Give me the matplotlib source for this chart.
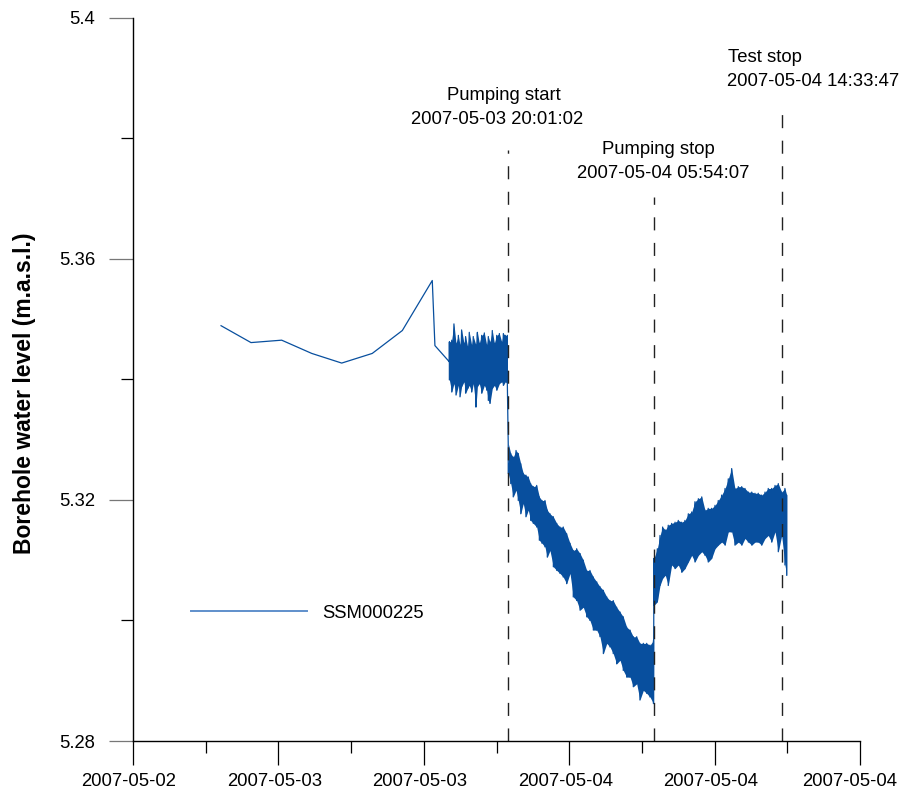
import matplotlib
matplotlib.use("Agg")
import matplotlib.pyplot as plt
import matplotlib.dates as mdates
from matplotlib.lines import Line2D
from matplotlib.transforms import ScaledTranslation
import numpy as np
from datetime import datetime, timedelta

plt.rcParams['font.family'] = ['Liberation Sans', 'DejaVu Sans']
plt.rcParams['lines.scale_dashes'] = False

# hours counted from 2007-05-03 00:00
base = datetime(2007, 5, 3)

# sparse logger readings before the dense sampling starts
sparse_h = [0.56, 2.59, 4.67, 6.71, 8.74, 10.81, 12.85, 14.88, 15.06, 16.04]
sparse_lvl = [5.3489, 5.3461, 5.3465, 5.3443, 5.3427, 5.3443, 5.3481, 5.3564, 5.3456, 5.3429]

# dense sampling, read as upper / lower edge of the noise band
pre_h = [16.04, 16.20, 16.35, 16.49, 16.65, 16.76, 16.87, 17.03, 17.14, 17.28,
         17.39, 17.55, 17.66, 17.84, 17.94, 18.07, 18.23, 18.41, 18.57, 18.68,
         18.79, 18.95, 19.09, 19.25, 19.43, 19.59, 19.70, 19.83, 19.97]
pre_hi = [5.3462, 5.3465, 5.3492, 5.3460, 5.3473, 5.3457, 5.3482, 5.3460, 5.3471, 5.3454,
          5.3478, 5.3457, 5.3471, 5.3457, 5.3478, 5.3460, 5.3473, 5.3477, 5.3457, 5.3471,
          5.3462, 5.3481, 5.3460, 5.3473, 5.3476, 5.3462, 5.3476, 5.3473, 5.3473]
pre_lo = [5.3399, 5.3379, 5.3393, 5.3374, 5.3390, 5.3371, 5.3388, 5.3396, 5.3377, 5.3385,
          5.3390, 5.3379, 5.3393, 5.3354, 5.3388, 5.3393, 5.3377, 5.3390, 5.3382, 5.3365,
          5.3360, 5.3385, 5.3390, 5.3382, 5.3393, 5.3396, 5.3390, 5.3396, 5.3393]

pump_h = [20.03, 20.20, 20.37, 20.56, 20.71, 20.88, 21.05, 21.23, 21.39, 21.55,
          21.73, 21.96, 22.14, 22.32, 22.52, 22.68, 22.86, 23.09, 23.32, 23.54,
          23.76, 23.99, 24.22, 24.44, 24.67, 24.90, 25.12, 25.35, 25.57, 25.80,
          26.03, 26.25, 26.48, 26.71, 26.93, 27.15, 27.38, 27.61, 27.83, 28.06,
          28.29, 28.51, 28.74, 28.96, 29.19, 29.42, 29.64, 29.88]
pump_hi = [5.3294, 5.3277, 5.3271, 5.3282, 5.3277, 5.3260, 5.3244, 5.3241, 5.3238, 5.3227,
           5.3222, 5.3224, 5.3205, 5.3199, 5.3199, 5.3183, 5.3177, 5.3172, 5.3161, 5.3155,
           5.3155, 5.3144, 5.3128, 5.3116, 5.3119, 5.3111, 5.3100, 5.3083, 5.3083, 5.3072,
           5.3064, 5.3056, 5.3050, 5.3039, 5.3033, 5.3033, 5.3022, 5.3014, 5.3006, 5.2989,
           5.2984, 5.2973, 5.2973, 5.2962, 5.2962, 5.2962, 5.2959, 5.2967]
pump_lo = [5.3244, 5.3227, 5.3205, 5.3216, 5.3199, 5.3177, 5.3194, 5.3172, 5.3183, 5.3166,
           5.3161, 5.3155, 5.3133, 5.3128, 5.3122, 5.3105, 5.3116, 5.3089, 5.3083, 5.3078,
           5.3072, 5.3061, 5.3078, 5.3039, 5.3033, 5.3017, 5.3022, 5.3006, 5.3000, 5.2984,
           5.2984, 5.2973, 5.2945, 5.2962, 5.2956, 5.2945, 5.2928, 5.2934, 5.2917, 5.2906,
           5.2906, 5.2890, 5.2895, 5.2868, 5.2884, 5.2879, 5.2873, 5.2862]

rec_h = [29.91, 30.14, 30.32, 30.50, 30.68, 30.88, 31.11, 31.34, 31.56, 31.79,
         32.01, 32.24, 32.47, 32.69, 32.92, 33.15, 33.37, 33.59, 33.82, 34.05,
         34.27, 34.50, 34.73, 34.95, 35.18, 35.40, 35.63, 35.86, 36.08, 36.31,
         36.54, 36.76, 36.98, 37.21, 37.44, 37.66, 37.89, 38.12, 38.34, 38.57,
         38.79, 38.91]
rec_hi = [5.3103, 5.3119, 5.3141, 5.3155, 5.3150, 5.3158, 5.3161, 5.3163, 5.3166, 5.3163,
          5.3166, 5.3177, 5.3180, 5.3197, 5.3202, 5.3205, 5.3183, 5.3186, 5.3186, 5.3191,
          5.3199, 5.3208, 5.3219, 5.3235, 5.3252, 5.3219, 5.3222, 5.3222, 5.3219, 5.3213,
          5.3213, 5.3211, 5.3211, 5.3208, 5.3213, 5.3219, 5.3219, 5.3224, 5.3227, 5.3213,
          5.3219, 5.3208]
rec_lo = [5.3025, 5.3031, 5.3058, 5.3070, 5.3075, 5.3058, 5.3092, 5.3086, 5.3092, 5.3080,
          5.3086, 5.3097, 5.3108, 5.3097, 5.3108, 5.3114, 5.3108, 5.3097, 5.3103, 5.3119,
          5.3125, 5.3130, 5.3125, 5.3147, 5.3147, 5.3125, 5.3130, 5.3125, 5.3136, 5.3130,
          5.3125, 5.3130, 5.3130, 5.3125, 5.3136, 5.3141, 5.3130, 5.3147, 5.3114, 5.3141,
          5.3092, 5.3075]

event_names = ["Pumping start", "Pumping stop", "Test stop"]
event_times = [datetime(2007, 5, 3, 20, 1, 2), datetime(2007, 5, 4, 5, 54, 7), datetime(2007, 5, 4, 14, 33, 47)]

x_start_h, x_end_h = -5.41, 43.88
yticks_major = [5.28, 5.32, 5.36, 5.40]
yticks_minor = [5.30, 5.34, 5.38]
series_name = "SSM000225"

blue = '#084f9e'


def to_dt(hours):
    return [base + timedelta(hours=h) for h in hours]


segments = [(pre_h, pre_hi, pre_lo), (pump_h, pump_hi, pump_lo), (rec_h, rec_hi, rec_lo)]

# one line through all readings, the dense part zig-zags between the band edges
line_h = list(sparse_h)
line_v = list(sparse_lvl)
for hh, hi, lo in segments:
    for h, a, b in zip(hh, hi, lo):
        line_h += [h, h]
        line_v += [a, b]

fig = plt.figure(figsize=(9.01, 7.96), dpi=100)
ax = fig.add_axes([133 / 901, 55 / 796, 727 / 901, 723.3 / 796])

for hh, hi, lo in segments:
    ax.fill_between(to_dt(hh), lo, hi, color=blue, lw=0)
ax.plot(to_dt(line_h), line_v, color=blue, lw=0.9)

# event markers
tops = [0.817, 0.752, 0.875]
for t, top in zip(event_times, tops):
    ax.plot([t, t], [0, top], transform=ax.get_xaxis_transform(), color='#222222',
            lw=1.0, dashes=(9.4, 9.0), clip_on=False)

fs = 13.3
txt = [("Pumping start", 503.5, 95), ("2007-05-03 20:01:02", 497.5, 120),
       ("Pumping stop", 658, 150), ("2007-05-04 05:54:07", 663.5, 174),
       ("Test stop", 765, 58), ("2007-05-04 14:33:47", 813, 82)]
for s, px, py in txt:
    ax.text((px - 133) / 727, (741 - py) / 723.3, s, transform=ax.transAxes,
            ha='center', va='center', fontsize=fs, clip_on=False)

# axes
x0 = mdates.date2num(base + timedelta(hours=x_start_h))
x1 = mdates.date2num(base + timedelta(hours=x_end_h))
ax.set_xlim(x0, x1)
ax.set_ylim(5.28, 5.40)
major = np.linspace(x0, x1, 6)
ax.set_xticks(major)
ax.set_xticks((major[:-1] + major[1:]) / 2, minor=True)
ax.xaxis.set_major_formatter(mdates.DateFormatter('%Y-%m-%d'))
ax.set_yticks(yticks_major)
ax.set_yticklabels(["5.28", "5.32", "5.36", "5.4"])
ax.set_yticks(yticks_minor, minor=True)

for s in ['top', 'right']:
    ax.spines[s].set_visible(False)
for s in ['left', 'bottom']:
    ax.spines[s].set_linewidth(1.0)
    ax.spines[s].set_color('black')

ax.tick_params(axis='x', which='major', length=17.3, width=0.9, pad=6, labelsize=fs, direction='out')
ax.tick_params(axis='x', which='minor', length=8.6, width=0.9, direction='out')
ax.tick_params(axis='y', which='major', length=17.3, width=0.9, pad=10, labelsize=fs, color='#777777', direction='out')
ax.tick_params(axis='y', which='minor', length=8.6, width=0.9, direction='out')

xlabels = ax.get_xticklabels()
for i, lab in enumerate(xlabels):
    shift = -4 if i < len(xlabels) - 1 else -10
    lab.set_transform(lab.get_transform() + ScaledTranslation(shift / 100, 0, fig.dpi_scale_trans))

ax.text(-108 / 727, 0.481, "Borehole water level (m.a.s.l.)", transform=ax.transAxes,
        rotation=90, ha='center', va='center', fontsize=16.5, fontweight='bold')

proxy = Line2D([], [], color='#5f8fcb', lw=1.4)
ax.legend([proxy], [series_name], loc='center left', bbox_to_anchor=(58 / 727, 128 / 723.3),
          frameon=False, fontsize=fs, handlelength=6.27, handletextpad=0.81,
          borderpad=0, borderaxespad=0)

fig.savefig("out.png", dpi=100)
